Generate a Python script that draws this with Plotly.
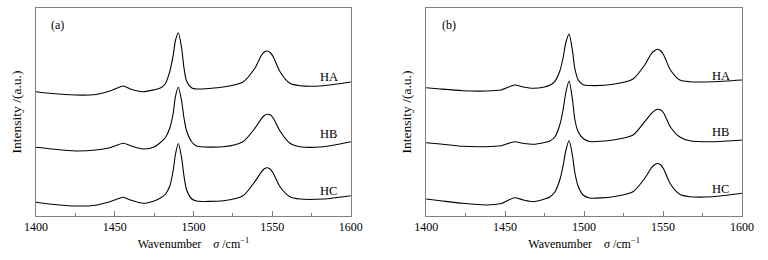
import plotly.graph_objects as go
from plotly.subplots import make_subplots

# ---------------- data ----------------
wn_a = [1400, 1410, 1425, 1438, 1447, 1455.5, 1460, 1468, 1475, 1479, 1482, 1485, 1487.2, 1488.5,
        1490.4, 1492.5, 1494, 1495.7, 1499, 1502, 1519, 1531.5, 1539, 1543.3, 1545, 1547, 1549,
        1550.7, 1555, 1561.3, 1567.6, 1582.4, 1600]
ha_a = [124.3, 122.5, 121, 121.5, 125, 130, 127, 124.3, 126.2, 128, 132, 144.7, 161.3, 175,
        183.3, 168, 148, 134.7, 128, 127, 129, 134, 147.7, 161, 164, 165, 163,
        159.3, 144.3, 132.7, 130.3, 130.3, 134]
hb_a = [68.7, 67, 65, 66, 68.3, 72.7, 70.3, 67, 69, 73.5, 78, 88, 103, 119,
        128.7, 115, 98, 85, 74, 70, 69.3, 74.3, 87.7, 97.7, 100.5, 101.7, 101,
        98, 85, 72.7, 69.3, 69.3, 74.3]
hc_a = [13.7, 11.8, 10, 10.8, 14.3, 18.7, 16, 12.7, 15, 18, 21.5, 30, 46, 61,
        72.5, 58, 40, 26, 17, 15, 15.3, 20.3, 34.3, 44.3, 47.3, 48.3, 46.5,
        42.7, 29.3, 19.3, 17, 17, 20.3]

wn_b = [1400, 1409, 1423, 1438, 1447.5, 1456, 1461.5, 1467.7, 1475, 1478.3, 1481.5, 1484.6, 1486.7,
        1488.4, 1490.5, 1492.7, 1494.1, 1496.2, 1499.4, 1503.6, 1518.4, 1531, 1538.4, 1542.7,
        1544.8, 1546.8, 1548.6, 1550.4, 1554.7, 1560.6, 1566.9, 1581.6, 1600]
ha_b = [128.3, 127, 125.3, 125, 126, 131, 129, 127.7, 129, 130.7, 134.7, 144.7, 158,
        173, 182, 164.7, 148, 136.3, 131.3, 130.5, 131.7, 137, 151, 162.7,
        165.5, 166.7, 165, 161, 146, 136, 134.3, 134.3, 136]
hb_b = [73.3, 72, 69.7, 69.3, 70.3, 74.3, 72.7, 71.7, 73.5, 75, 79, 91, 106,
        123, 135, 116, 97, 84.5, 77.5, 74.5, 76, 81, 94.3, 102.7,
        105.5, 106.7, 106, 103, 89, 79, 75.3, 74.3, 76]
hc_b = [17, 15.3, 12.7, 11, 12.5, 18.3, 16, 14.3, 17, 19, 24, 36, 50,
        65, 75.5, 60, 44, 30, 21, 18, 19.3, 24.3, 37.7, 48.3,
        51.5, 52.5, 51, 47, 32, 21.7, 19.3, 19.3, 22.7]

series_names = ["HA", "HB", "HC"]
panel_tags = ["(a)", "(b)"]
label_x = [1586, 1586.5]
label_y_a = [139, 82, 25.3]
label_y_b = [140.3, 83.7, 27]
x_ticks = [1400, 1450, 1500, 1550, 1600]

# ---------------- figure ----------------
FONT = "Times New Roman, Liberation Serif, serif"
fig = make_subplots(rows=1, cols=2, horizontal_spacing=0.1)

panels = [
    (wn_a, [ha_a, hb_a, hc_a], label_y_a),
    (wn_b, [ha_b, hb_b, hc_b], label_y_b),
]
for c, (wn, ys, ly) in enumerate(panels, start=1):
    for name, y in zip(series_names, ys):
        fig.add_trace(go.Scatter(x=wn, y=y, mode="lines", name=name, showlegend=False,
                                 line=dict(color="black", width=1.1, shape="spline", smoothing=0.7)),
                      row=1, col=c)
    xref = "x" if c == 1 else "x2"
    yref = "y" if c == 1 else "y2"
    for name, yy in zip(series_names, ly):
        fig.add_annotation(x=label_x[c - 1], y=yy, xref=xref, yref=yref, text=name,
                           showarrow=False, font=dict(family=FONT, size=12.5, color="black"))
    fig.add_annotation(x=1408.5, y=191, xref=xref, yref=yref, text=panel_tags[c - 1],
                       showarrow=False, xanchor="left",
                       font=dict(family=FONT, size=12, color="black"))

W, H = 768, 260
L, R, T, B = 36, 25.7, 8, 44.3
pw = W - L - R
dom_a = [0, (351 - L) / pw]
dom_b = [(426.3 - L) / pw, 1]

axis_common = dict(showline=True, linecolor="#808080", linewidth=1, mirror=True,
                   showgrid=False, zeroline=False)
for i, dom in enumerate([dom_a, dom_b], start=1):
    xa = "xaxis" if i == 1 else "xaxis2"
    ya = "yaxis" if i == 1 else "yaxis2"
    fig.update_layout(**{
        xa: dict(domain=dom, range=[1400, 1600], tickvals=x_ticks, ticks="inside", ticklen=5,
                 tickcolor="#808080", tickwidth=1,
                 minor=dict(ticks="inside", ticklen=3, dtick=25, tick0=1400, tickcolor="#808080"),
                 tickfont=dict(family=FONT, size=12, color="black"),
                 title=dict(text="Wavenumber\u00a0\u00a0\u00a0 <i>σ</i> /cm<sup>−1</sup>",
                            font=dict(family=FONT, size=12, color="black"), standoff=6),
                 automargin=False, **axis_common),
        ya: dict(domain=[0, 1], range=[0, 208], showticklabels=False, ticks="",
                 title=dict(text="Intensity /(a.u.)", font=dict(family=FONT, size=13.5, color="black"),
                            standoff=10),
                 automargin=False, **axis_common),
    })

fig.update_layout(width=W, height=H, margin=dict(l=L, r=R, t=T, b=B),
                  paper_bgcolor="white", plot_bgcolor="white", showlegend=False)

fig.write_html("out.html", config={"displayModeBar": False},
               post_script="document.body.style.margin='0';")
